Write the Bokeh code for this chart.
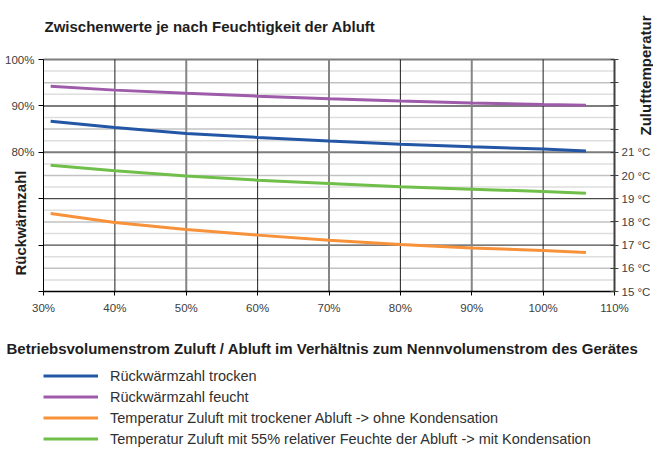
from bokeh.plotting import figure
from bokeh.models import Range1d, LinearAxis, FixedTicker, Label, Legend, LegendItem
from bokeh.embed import file_html
from bokeh.resources import INLINE

# ---------------- data ----------------
flow = [31, 40, 50, 60, 70, 80, 90, 100, 106]
rwz_trocken = [86.7, 85.35, 84.05, 83.2, 82.45, 81.75, 81.2, 80.7, 80.3]
rwz_feucht = [94.25, 93.4, 92.7, 92.1, 91.55, 91.05, 90.65, 90.3, 90.15]
temp_trocken = [18.36, 17.97, 17.67, 17.43, 17.21, 17.03, 16.88, 16.77, 16.68]
temp_feucht = [20.44, 20.2, 19.98, 19.8, 19.66, 19.51, 19.41, 19.31, 19.24]

x_ticks = [30, 40, 50, 60, 70, 80, 90, 100, 110]
x_tick_labels = ["30%", "40%", "50%", "60%", "70%", "80%", "90%", "100%", "110%"]
pct_ticks = [50, 60, 70, 80, 90, 100]
pct_tick_labels = ["", "", "", "80%", "90%", "100%"]
temp_ticks = [15, 16, 17, 18, 19, 20, 21, 22, 23, 24, 25]
temp_tick_labels = ["15 °C", "16 °C", "17 °C", "18 °C", "19 °C", "20 °C", "21 °C", "", "", "", ""]

title_text = "Zwischenwerte je nach Feuchtigkeit der Abluft"
x_title = "Betriebsvolumenstrom Zuluft / Abluft im Verhältnis zum Nennvolumenstrom des Gerätes"
left_title = "Rückwärmzahl"
right_title = "Zulufttemperatur"
series_names = [
    "Rückwärmzahl trocken",
    "Rückwärmzahl feucht",
    "Temperatur Zuluft mit trockener Abluft -> ohne Kondensation",
    "Temperatur Zuluft mit 55% relativer Feuchte der Abluft -> mit Kondensation",
]
series_colors = ["#2357A6", "#9E5BA9", "#F7923A", "#6FBF4A"]

# ---------------- layout (pixels) ----------------
W, H = 653, 448
PX_LEFT, PX_RIGHT = 43, 614      # canvas x of the plot-area edges
PX_TOP, PX_BOTTOM = 59, 291      # canvas y of the plot-area edges

FONT = "Liberation Sans"
TICK_COLOR = "#404040"
TITLE_COLOR = "#1e1e1e"

x_lo, x_hi = x_ticks[0], x_ticks[-1]
y_lo, y_hi = pct_ticks[0], pct_ticks[-1]
t_lo, t_hi = temp_ticks[0], temp_ticks[-1]
kx = (PX_RIGHT - PX_LEFT) / (x_hi - x_lo)
ky = (PX_BOTTOM - PX_TOP) / (y_hi - y_lo)
y_start = y_lo - (H - PX_BOTTOM) / ky
y_end = y_hi + PX_TOP / ky
tk = (t_hi - t_lo) / (y_hi - y_lo)

p = figure(width=W, height=H, output_backend="svg", toolbar_location=None,
           x_range=Range1d(x_lo - PX_LEFT / kx, x_hi + (W - PX_RIGHT) / kx),
           y_range=Range1d(y_start, y_end), min_border=0)
p.extra_y_ranges = {"temp": Range1d(t_lo + (y_start - y_lo) * tk, t_lo + (y_end - y_lo) * tk)}
p.outline_line_color = None
p.background_fill_color = "white"
p.border_fill_color = "white"
p.xgrid.visible = False
p.ygrid.visible = False

# ---------------- grid lines (as segments between the axes) ----------------
minor_temp = [t + 0.5 for t in temp_ticks[:-1]]
major_temp = [t for t in temp_ticks[1:-1] if t % 2 == 0]
p.segment(x0=x_lo, x1=x_hi, y0=minor_temp, y1=minor_temp, y_range_name="temp",
          line_color="#dedede", line_width=1.5)
p.segment(x0=x_lo, x1=x_hi, y0=major_temp, y1=major_temp, y_range_name="temp",
          line_color="#c2c2c2", line_width=1.5)
grey_pct = [80, 90, 100]
black_pct = [60, 70]
p.segment(x0=x_lo, x1=x_hi, y0=grey_pct, y1=grey_pct, line_color="#7d7d7d", line_width=2)
p.segment(x0=x_lo, x1=x_hi, y0=black_pct, y1=black_pct, line_color="#1f1f1f", line_width=1)
grey_x = [50, 70, 90]
black_x = [40, 60, 80, 100]
p.segment(x0=grey_x, x1=grey_x, y0=y_lo, y1=y_hi, line_color="#858585", line_width=2)
p.segment(x0=black_x, x1=black_x, y0=y_lo, y1=y_hi, line_color="#1f1f1f", line_width=1)

# ---------------- axes ----------------
xa = p.xaxis[0]
xa.fixed_location = y_lo
xa.bounds = (x_lo, x_hi)
xa.ticker = FixedTicker(ticks=x_ticks)
xa.major_label_overrides = dict(zip(x_ticks, x_tick_labels))
xa.axis_line_color = "black"
xa.axis_line_width = 1.5
xa.major_tick_out = 4
xa.major_tick_in = 0
xa.minor_tick_out = 0
xa.minor_tick_in = 0
xa.major_tick_line_color = "black"
xa.major_label_standoff = 6
xa.major_label_text_font = FONT
xa.major_label_text_font_size = "11.5px"
xa.major_label_text_color = TICK_COLOR

ya = p.yaxis[0]
ya.fixed_location = x_lo
ya.bounds = (y_lo, y_hi)
ya.ticker = FixedTicker(ticks=pct_ticks)
ya.major_label_overrides = dict(zip(pct_ticks, pct_tick_labels))
ya.axis_line_color = "black"
ya.major_tick_out = 5
ya.major_tick_in = 0
ya.minor_tick_out = 0
ya.minor_tick_in = 0
ya.major_tick_line_color = "black"
ya.major_label_standoff = 4
ya.major_label_text_font = FONT
ya.major_label_text_font_size = "11.5px"
ya.major_label_text_color = TICK_COLOR

ra = LinearAxis(y_range_name="temp", ticker=FixedTicker(ticks=temp_ticks),
                fixed_location=x_hi, bounds=(t_lo, t_hi))
ra.major_label_overrides = dict(zip(temp_ticks, temp_tick_labels))
ra.axis_line_color = "#404040"
ra.axis_line_width = 2
ra.major_tick_out = 4
ra.major_tick_in = 4
ra.minor_tick_out = 0
ra.minor_tick_in = 0
ra.major_tick_line_color = "#404040"
ra.major_label_standoff = 3
ra.major_label_text_font = FONT
ra.major_label_text_font_size = "11.5px"
ra.major_label_text_color = TICK_COLOR
p.add_layout(ra, "right")

# ---------------- series ----------------
r_blue = p.line(flow, rwz_trocken, line_color=series_colors[0], line_width=3)
r_purple = p.line(flow, rwz_feucht, line_color=series_colors[1], line_width=3)
r_orange = p.line(flow, temp_trocken, line_color=series_colors[2], line_width=3, y_range_name="temp")
r_green = p.line(flow, temp_feucht, line_color=series_colors[3], line_width=3, y_range_name="temp")

legend = Legend(
    items=[LegendItem(label=series_names[0], renderers=[r_blue]),
           LegendItem(label=series_names[1], renderers=[r_purple]),
           LegendItem(label=series_names[2], renderers=[r_orange]),
           LegendItem(label=series_names[3], renderers=[r_green])],
    location=(43, 0), orientation="vertical",
    padding=0, margin=0, spacing=2,
    glyph_width=55, glyph_height=19, label_height=19, label_standoff=12,
    label_text_font=FONT, label_text_font_size="14.5px", label_text_color="#303030",
    border_line_color=None, background_fill_alpha=0,
)
p.add_layout(legend)

# ---------------- titles (screen units: from the canvas bottom-left) ----------------
def add_text(text, x, y, angle=0, align="left"):
    p.add_layout(Label(x=x, y=y, x_units="screen", y_units="screen", text=text,
                       angle=angle, angle_units="deg",
                       text_font=FONT, text_font_size="15px", text_font_style="bold",
                       text_color=TITLE_COLOR, text_align=align, text_baseline="alphabetic"))

add_text(title_text, 44, H - 26)
add_text(x_title, 6, H - 348)
add_text(left_title, 20, H - 222.5, angle=90, align="center")
add_text(right_title, 645, H - 75, angle=90, align="center")

open("out.html", "w").write(file_html(p, INLINE))
